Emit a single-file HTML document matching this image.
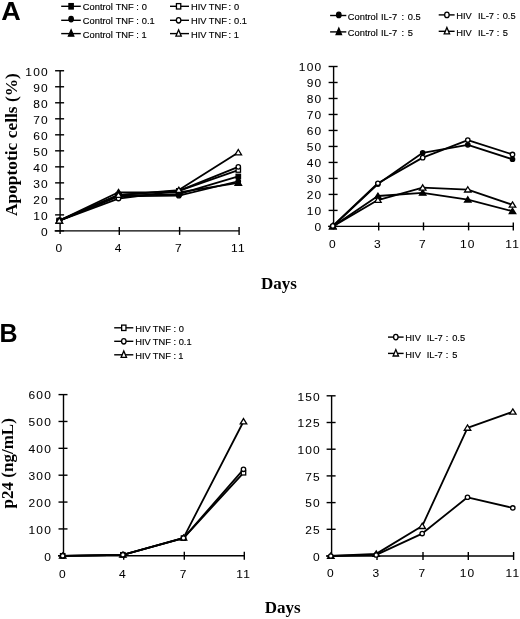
<!DOCTYPE html>
<html><head><meta charset="utf-8"><title>Figure</title>
<style>
html,body{margin:0;padding:0;background:#fff;width:520px;height:619px;overflow:hidden;}
svg{display:block;will-change:transform;}
text{fill:#000;}
</style></head>
<body>
<svg width="520" height="619" viewBox="0 0 520 619">
<rect width="520" height="619" fill="#fff"/>
<text x="1.00" y="19.60" font-family="&quot;Liberation Sans&quot;, sans-serif" font-size="25" font-weight="bold" text-anchor="start" style="letter-spacing:0px" transform="translate(0.1,0) scale(1.08,1)" >A</text>
<text x="-0.40" y="341.80" font-family="&quot;Liberation Sans&quot;, sans-serif" font-size="25" font-weight="bold" text-anchor="start" style="letter-spacing:0px" >B</text>
<line x1="61.20" y1="6.30" x2="80.80" y2="6.30" stroke="#000" stroke-width="1.4"/>
<rect x="68.95" y="3.60" width="4.30" height="5.40" fill="#000" stroke="#000" stroke-width="1.3"/>
<text x="82.83" y="10.20" font-family="&quot;Liberation Sans&quot;, sans-serif" font-size="9.3" font-weight="normal" text-anchor="start" style="letter-spacing:0px" stroke="#000" stroke-width="0.15">Control</text>
<text x="115.69" y="10.20" font-family="&quot;Liberation Sans&quot;, sans-serif" font-size="9.3" font-weight="normal" text-anchor="start" style="letter-spacing:0px" stroke="#000" stroke-width="0.15">TNF</text>
<text x="136.21" y="10.20" font-family="&quot;Liberation Sans&quot;, sans-serif" font-size="9.3" font-weight="normal" text-anchor="start" style="letter-spacing:0px" stroke="#000" stroke-width="0.15">:</text>
<text x="141.84" y="10.20" font-family="&quot;Liberation Sans&quot;, sans-serif" font-size="9.3" font-weight="normal" text-anchor="start" style="letter-spacing:0px" stroke="#000" stroke-width="0.15">0</text>
<line x1="170.00" y1="6.30" x2="189.00" y2="6.30" stroke="#000" stroke-width="1.4"/>
<rect x="176.45" y="3.60" width="4.30" height="5.40" fill="#fff" stroke="#000" stroke-width="1.3"/>
<text x="190.94" y="10.20" font-family="&quot;Liberation Sans&quot;, sans-serif" font-size="9.3" font-weight="normal" text-anchor="start" style="letter-spacing:0px" stroke="#000" stroke-width="0.15">HIV</text>
<text x="208.79" y="10.20" font-family="&quot;Liberation Sans&quot;, sans-serif" font-size="9.3" font-weight="normal" text-anchor="start" style="letter-spacing:0px" stroke="#000" stroke-width="0.15">TNF</text>
<text x="228.51" y="10.20" font-family="&quot;Liberation Sans&quot;, sans-serif" font-size="9.3" font-weight="normal" text-anchor="start" style="letter-spacing:0px" stroke="#000" stroke-width="0.15">:</text>
<text x="234.04" y="10.20" font-family="&quot;Liberation Sans&quot;, sans-serif" font-size="9.3" font-weight="normal" text-anchor="start" style="letter-spacing:0px" stroke="#000" stroke-width="0.15">0</text>
<line x1="61.20" y1="20.30" x2="80.80" y2="20.30" stroke="#000" stroke-width="1.4"/>
<ellipse cx="71.10" cy="19.10" rx="2.25" ry="2.70" fill="#000" stroke="#000" stroke-width="1.3"/>
<text x="82.83" y="24.20" font-family="&quot;Liberation Sans&quot;, sans-serif" font-size="9.3" font-weight="normal" text-anchor="start" style="letter-spacing:0px" stroke="#000" stroke-width="0.15">Control</text>
<text x="115.69" y="24.20" font-family="&quot;Liberation Sans&quot;, sans-serif" font-size="9.3" font-weight="normal" text-anchor="start" style="letter-spacing:0px" stroke="#000" stroke-width="0.15">TNF</text>
<text x="136.21" y="24.20" font-family="&quot;Liberation Sans&quot;, sans-serif" font-size="9.3" font-weight="normal" text-anchor="start" style="letter-spacing:0px" stroke="#000" stroke-width="0.15">:</text>
<text x="141.84" y="24.20" font-family="&quot;Liberation Sans&quot;, sans-serif" font-size="9.3" font-weight="normal" text-anchor="start" style="letter-spacing:0px" stroke="#000" stroke-width="0.15">0.1</text>
<line x1="170.00" y1="20.30" x2="189.00" y2="20.30" stroke="#000" stroke-width="1.4"/>
<ellipse cx="178.60" cy="20.30" rx="2.25" ry="2.70" fill="#fff" stroke="#000" stroke-width="1.3"/>
<text x="190.94" y="24.20" font-family="&quot;Liberation Sans&quot;, sans-serif" font-size="9.3" font-weight="normal" text-anchor="start" style="letter-spacing:0px" stroke="#000" stroke-width="0.15">HIV</text>
<text x="208.79" y="24.20" font-family="&quot;Liberation Sans&quot;, sans-serif" font-size="9.3" font-weight="normal" text-anchor="start" style="letter-spacing:0px" stroke="#000" stroke-width="0.15">TNF</text>
<text x="228.51" y="24.20" font-family="&quot;Liberation Sans&quot;, sans-serif" font-size="9.3" font-weight="normal" text-anchor="start" style="letter-spacing:0px" stroke="#000" stroke-width="0.15">:</text>
<text x="234.04" y="24.20" font-family="&quot;Liberation Sans&quot;, sans-serif" font-size="9.3" font-weight="normal" text-anchor="start" style="letter-spacing:0px" stroke="#000" stroke-width="0.15">0.1</text>
<line x1="61.20" y1="33.60" x2="80.80" y2="33.60" stroke="#000" stroke-width="1.4"/>
<path d="M71.10,29.80 L73.80,36.20 L68.40,36.20 Z" fill="#000" stroke="#000" stroke-width="1.3" stroke-linejoin="miter"/>
<text x="82.83" y="37.50" font-family="&quot;Liberation Sans&quot;, sans-serif" font-size="9.3" font-weight="normal" text-anchor="start" style="letter-spacing:0px" stroke="#000" stroke-width="0.15">Control</text>
<text x="115.69" y="37.50" font-family="&quot;Liberation Sans&quot;, sans-serif" font-size="9.3" font-weight="normal" text-anchor="start" style="letter-spacing:0px" stroke="#000" stroke-width="0.15">TNF</text>
<text x="136.21" y="37.50" font-family="&quot;Liberation Sans&quot;, sans-serif" font-size="9.3" font-weight="normal" text-anchor="start" style="letter-spacing:0px" stroke="#000" stroke-width="0.15">:</text>
<text x="141.49" y="37.50" font-family="&quot;Liberation Sans&quot;, sans-serif" font-size="9.3" font-weight="normal" text-anchor="start" style="letter-spacing:0px" stroke="#000" stroke-width="0.15">1</text>
<line x1="170.00" y1="33.60" x2="189.00" y2="33.60" stroke="#000" stroke-width="1.4"/>
<path d="M178.60,29.80 L181.30,36.20 L175.90,36.20 Z" fill="#fff" stroke="#000" stroke-width="1.3" stroke-linejoin="miter"/>
<text x="190.94" y="37.50" font-family="&quot;Liberation Sans&quot;, sans-serif" font-size="9.3" font-weight="normal" text-anchor="start" style="letter-spacing:0px" stroke="#000" stroke-width="0.15">HIV</text>
<text x="208.79" y="37.50" font-family="&quot;Liberation Sans&quot;, sans-serif" font-size="9.3" font-weight="normal" text-anchor="start" style="letter-spacing:0px" stroke="#000" stroke-width="0.15">TNF</text>
<text x="228.51" y="37.50" font-family="&quot;Liberation Sans&quot;, sans-serif" font-size="9.3" font-weight="normal" text-anchor="start" style="letter-spacing:0px" stroke="#000" stroke-width="0.15">:</text>
<text x="233.69" y="37.50" font-family="&quot;Liberation Sans&quot;, sans-serif" font-size="9.3" font-weight="normal" text-anchor="start" style="letter-spacing:0px" stroke="#000" stroke-width="0.15">1</text>
<line x1="330.10" y1="15.50" x2="346.30" y2="15.50" stroke="#000" stroke-width="1.4"/>
<ellipse cx="338.80" cy="14.90" rx="2.25" ry="2.70" fill="#000" stroke="#000" stroke-width="1.3"/>
<text x="347.83" y="19.70" font-family="&quot;Liberation Sans&quot;, sans-serif" font-size="9.3" font-weight="normal" text-anchor="start" style="letter-spacing:0px" stroke="#000" stroke-width="0.15">Control</text>
<text x="381.04" y="19.70" font-family="&quot;Liberation Sans&quot;, sans-serif" font-size="9.3" font-weight="normal" text-anchor="start" style="letter-spacing:0px" stroke="#000" stroke-width="0.15">IL-7</text>
<text x="401.41" y="19.70" font-family="&quot;Liberation Sans&quot;, sans-serif" font-size="9.3" font-weight="normal" text-anchor="start" style="letter-spacing:0px" stroke="#000" stroke-width="0.15">:</text>
<text x="407.74" y="19.70" font-family="&quot;Liberation Sans&quot;, sans-serif" font-size="9.3" font-weight="normal" text-anchor="start" style="letter-spacing:0px" stroke="#000" stroke-width="0.15">0.5</text>
<line x1="438.70" y1="14.90" x2="454.60" y2="14.90" stroke="#000" stroke-width="1.4"/>
<ellipse cx="446.90" cy="14.90" rx="2.25" ry="2.70" fill="#fff" stroke="#000" stroke-width="1.3"/>
<text x="456.24" y="19.20" font-family="&quot;Liberation Sans&quot;, sans-serif" font-size="9.3" font-weight="normal" text-anchor="start" style="letter-spacing:0px" stroke="#000" stroke-width="0.15">HIV</text>
<text x="477.94" y="19.20" font-family="&quot;Liberation Sans&quot;, sans-serif" font-size="9.3" font-weight="normal" text-anchor="start" style="letter-spacing:0px" stroke="#000" stroke-width="0.15">IL-7</text>
<text x="496.71" y="19.20" font-family="&quot;Liberation Sans&quot;, sans-serif" font-size="9.3" font-weight="normal" text-anchor="start" style="letter-spacing:0px" stroke="#000" stroke-width="0.15">:</text>
<text x="502.64" y="19.20" font-family="&quot;Liberation Sans&quot;, sans-serif" font-size="9.3" font-weight="normal" text-anchor="start" style="letter-spacing:0px" stroke="#000" stroke-width="0.15">0.5</text>
<line x1="330.10" y1="31.90" x2="346.30" y2="31.90" stroke="#000" stroke-width="1.4"/>
<path d="M338.80,28.10 L341.50,34.50 L336.10,34.50 Z" fill="#000" stroke="#000" stroke-width="1.3" stroke-linejoin="miter"/>
<text x="347.83" y="36.10" font-family="&quot;Liberation Sans&quot;, sans-serif" font-size="9.3" font-weight="normal" text-anchor="start" style="letter-spacing:0px" stroke="#000" stroke-width="0.15">Control</text>
<text x="381.04" y="36.10" font-family="&quot;Liberation Sans&quot;, sans-serif" font-size="9.3" font-weight="normal" text-anchor="start" style="letter-spacing:0px" stroke="#000" stroke-width="0.15">IL-7</text>
<text x="401.41" y="36.10" font-family="&quot;Liberation Sans&quot;, sans-serif" font-size="9.3" font-weight="normal" text-anchor="start" style="letter-spacing:0px" stroke="#000" stroke-width="0.15">:</text>
<text x="407.73" y="36.10" font-family="&quot;Liberation Sans&quot;, sans-serif" font-size="9.3" font-weight="normal" text-anchor="start" style="letter-spacing:0px" stroke="#000" stroke-width="0.15">5</text>
<line x1="438.70" y1="31.30" x2="454.60" y2="31.30" stroke="#000" stroke-width="1.4"/>
<path d="M446.90,27.50 L449.60,33.90 L444.20,33.90 Z" fill="#fff" stroke="#000" stroke-width="1.3" stroke-linejoin="miter"/>
<text x="456.24" y="35.60" font-family="&quot;Liberation Sans&quot;, sans-serif" font-size="9.3" font-weight="normal" text-anchor="start" style="letter-spacing:0px" stroke="#000" stroke-width="0.15">HIV</text>
<text x="477.94" y="35.60" font-family="&quot;Liberation Sans&quot;, sans-serif" font-size="9.3" font-weight="normal" text-anchor="start" style="letter-spacing:0px" stroke="#000" stroke-width="0.15">IL-7</text>
<text x="496.71" y="35.60" font-family="&quot;Liberation Sans&quot;, sans-serif" font-size="9.3" font-weight="normal" text-anchor="start" style="letter-spacing:0px" stroke="#000" stroke-width="0.15">:</text>
<text x="502.63" y="35.60" font-family="&quot;Liberation Sans&quot;, sans-serif" font-size="9.3" font-weight="normal" text-anchor="start" style="letter-spacing:0px" stroke="#000" stroke-width="0.15">5</text>
<line x1="114.20" y1="327.80" x2="133.30" y2="327.80" stroke="#000" stroke-width="1.4"/>
<rect x="121.65" y="325.10" width="4.30" height="5.40" fill="#fff" stroke="#000" stroke-width="1.3"/>
<text x="135.24" y="331.80" font-family="&quot;Liberation Sans&quot;, sans-serif" font-size="9.3" font-weight="normal" text-anchor="start" style="letter-spacing:0px" stroke="#000" stroke-width="0.15">HIV</text>
<text x="152.79" y="331.80" font-family="&quot;Liberation Sans&quot;, sans-serif" font-size="9.3" font-weight="normal" text-anchor="start" style="letter-spacing:0px" stroke="#000" stroke-width="0.15">TNF</text>
<text x="173.41" y="331.80" font-family="&quot;Liberation Sans&quot;, sans-serif" font-size="9.3" font-weight="normal" text-anchor="start" style="letter-spacing:0px" stroke="#000" stroke-width="0.15">:</text>
<text x="178.64" y="331.80" font-family="&quot;Liberation Sans&quot;, sans-serif" font-size="9.3" font-weight="normal" text-anchor="start" style="letter-spacing:0px" stroke="#000" stroke-width="0.15">0</text>
<line x1="114.20" y1="341.30" x2="133.30" y2="341.30" stroke="#000" stroke-width="1.4"/>
<ellipse cx="123.80" cy="341.30" rx="2.25" ry="2.70" fill="#fff" stroke="#000" stroke-width="1.3"/>
<text x="135.24" y="345.30" font-family="&quot;Liberation Sans&quot;, sans-serif" font-size="9.3" font-weight="normal" text-anchor="start" style="letter-spacing:0px" stroke="#000" stroke-width="0.15">HIV</text>
<text x="152.79" y="345.30" font-family="&quot;Liberation Sans&quot;, sans-serif" font-size="9.3" font-weight="normal" text-anchor="start" style="letter-spacing:0px" stroke="#000" stroke-width="0.15">TNF</text>
<text x="173.41" y="345.30" font-family="&quot;Liberation Sans&quot;, sans-serif" font-size="9.3" font-weight="normal" text-anchor="start" style="letter-spacing:0px" stroke="#000" stroke-width="0.15">:</text>
<text x="178.64" y="345.30" font-family="&quot;Liberation Sans&quot;, sans-serif" font-size="9.3" font-weight="normal" text-anchor="start" style="letter-spacing:0px" stroke="#000" stroke-width="0.15">0.1</text>
<line x1="114.20" y1="354.80" x2="133.30" y2="354.80" stroke="#000" stroke-width="1.4"/>
<path d="M123.80,351.00 L126.50,357.40 L121.10,357.40 Z" fill="#fff" stroke="#000" stroke-width="1.3" stroke-linejoin="miter"/>
<text x="135.24" y="358.80" font-family="&quot;Liberation Sans&quot;, sans-serif" font-size="9.3" font-weight="normal" text-anchor="start" style="letter-spacing:0px" stroke="#000" stroke-width="0.15">HIV</text>
<text x="152.79" y="358.80" font-family="&quot;Liberation Sans&quot;, sans-serif" font-size="9.3" font-weight="normal" text-anchor="start" style="letter-spacing:0px" stroke="#000" stroke-width="0.15">TNF</text>
<text x="173.41" y="358.80" font-family="&quot;Liberation Sans&quot;, sans-serif" font-size="9.3" font-weight="normal" text-anchor="start" style="letter-spacing:0px" stroke="#000" stroke-width="0.15">:</text>
<text x="178.29" y="358.80" font-family="&quot;Liberation Sans&quot;, sans-serif" font-size="9.3" font-weight="normal" text-anchor="start" style="letter-spacing:0px" stroke="#000" stroke-width="0.15">1</text>
<line x1="388.00" y1="337.10" x2="403.60" y2="337.10" stroke="#000" stroke-width="1.4"/>
<ellipse cx="395.80" cy="337.10" rx="2.25" ry="2.70" fill="#fff" stroke="#000" stroke-width="1.3"/>
<text x="405.34" y="341.40" font-family="&quot;Liberation Sans&quot;, sans-serif" font-size="9.3" font-weight="normal" text-anchor="start" style="letter-spacing:0px" stroke="#000" stroke-width="0.15">HIV</text>
<text x="426.74" y="341.40" font-family="&quot;Liberation Sans&quot;, sans-serif" font-size="9.3" font-weight="normal" text-anchor="start" style="letter-spacing:0px" stroke="#000" stroke-width="0.15">IL-7</text>
<text x="445.81" y="341.40" font-family="&quot;Liberation Sans&quot;, sans-serif" font-size="9.3" font-weight="normal" text-anchor="start" style="letter-spacing:0px" stroke="#000" stroke-width="0.15">:</text>
<text x="452.14" y="341.40" font-family="&quot;Liberation Sans&quot;, sans-serif" font-size="9.3" font-weight="normal" text-anchor="start" style="letter-spacing:0px" stroke="#000" stroke-width="0.15">0.5</text>
<line x1="388.00" y1="353.40" x2="403.60" y2="353.40" stroke="#000" stroke-width="1.4"/>
<path d="M395.80,349.60 L398.50,356.00 L393.10,356.00 Z" fill="#fff" stroke="#000" stroke-width="1.3" stroke-linejoin="miter"/>
<text x="405.34" y="357.70" font-family="&quot;Liberation Sans&quot;, sans-serif" font-size="9.3" font-weight="normal" text-anchor="start" style="letter-spacing:0px" stroke="#000" stroke-width="0.15">HIV</text>
<text x="426.74" y="357.70" font-family="&quot;Liberation Sans&quot;, sans-serif" font-size="9.3" font-weight="normal" text-anchor="start" style="letter-spacing:0px" stroke="#000" stroke-width="0.15">IL-7</text>
<text x="445.81" y="357.70" font-family="&quot;Liberation Sans&quot;, sans-serif" font-size="9.3" font-weight="normal" text-anchor="start" style="letter-spacing:0px" stroke="#000" stroke-width="0.15">:</text>
<text x="452.13" y="357.70" font-family="&quot;Liberation Sans&quot;, sans-serif" font-size="9.3" font-weight="normal" text-anchor="start" style="letter-spacing:0px" stroke="#000" stroke-width="0.15">5</text>
<line x1="60.10" y1="70.75" x2="60.10" y2="233.90" stroke="#000" stroke-width="1.4"/>
<line x1="54.60" y1="230.90" x2="239.10" y2="230.90" stroke="#000" stroke-width="1.4"/>
<line x1="55.10" y1="230.90" x2="64.10" y2="230.90" stroke="#000" stroke-width="1.4"/>
<text transform="translate(48.74,235.70) scale(1.04,1)" font-family="&quot;Liberation Sans&quot;, sans-serif" font-size="11.5" text-anchor="end" stroke="#000" stroke-width="0.05" style="letter-spacing:1.1px">0</text>
<line x1="55.10" y1="214.88" x2="64.10" y2="214.88" stroke="#000" stroke-width="1.4"/>
<text transform="translate(48.74,219.69) scale(1.04,1)" font-family="&quot;Liberation Sans&quot;, sans-serif" font-size="11.5" text-anchor="end" stroke="#000" stroke-width="0.05" style="letter-spacing:1.1px">10</text>
<line x1="55.10" y1="198.87" x2="64.10" y2="198.87" stroke="#000" stroke-width="1.4"/>
<text transform="translate(48.74,203.67) scale(1.04,1)" font-family="&quot;Liberation Sans&quot;, sans-serif" font-size="11.5" text-anchor="end" stroke="#000" stroke-width="0.05" style="letter-spacing:1.1px">20</text>
<line x1="55.10" y1="182.86" x2="64.10" y2="182.86" stroke="#000" stroke-width="1.4"/>
<text transform="translate(48.74,187.66) scale(1.04,1)" font-family="&quot;Liberation Sans&quot;, sans-serif" font-size="11.5" text-anchor="end" stroke="#000" stroke-width="0.05" style="letter-spacing:1.1px">30</text>
<line x1="55.10" y1="166.84" x2="64.10" y2="166.84" stroke="#000" stroke-width="1.4"/>
<text transform="translate(48.74,171.64) scale(1.04,1)" font-family="&quot;Liberation Sans&quot;, sans-serif" font-size="11.5" text-anchor="end" stroke="#000" stroke-width="0.05" style="letter-spacing:1.1px">40</text>
<line x1="55.10" y1="150.82" x2="64.10" y2="150.82" stroke="#000" stroke-width="1.4"/>
<text transform="translate(48.74,155.62) scale(1.04,1)" font-family="&quot;Liberation Sans&quot;, sans-serif" font-size="11.5" text-anchor="end" stroke="#000" stroke-width="0.05" style="letter-spacing:1.1px">50</text>
<line x1="55.10" y1="134.81" x2="64.10" y2="134.81" stroke="#000" stroke-width="1.4"/>
<text transform="translate(48.74,139.61) scale(1.04,1)" font-family="&quot;Liberation Sans&quot;, sans-serif" font-size="11.5" text-anchor="end" stroke="#000" stroke-width="0.05" style="letter-spacing:1.1px">60</text>
<line x1="55.10" y1="118.80" x2="64.10" y2="118.80" stroke="#000" stroke-width="1.4"/>
<text transform="translate(48.74,123.59) scale(1.04,1)" font-family="&quot;Liberation Sans&quot;, sans-serif" font-size="11.5" text-anchor="end" stroke="#000" stroke-width="0.05" style="letter-spacing:1.1px">70</text>
<line x1="55.10" y1="102.78" x2="64.10" y2="102.78" stroke="#000" stroke-width="1.4"/>
<text transform="translate(48.74,107.58) scale(1.04,1)" font-family="&quot;Liberation Sans&quot;, sans-serif" font-size="11.5" text-anchor="end" stroke="#000" stroke-width="0.05" style="letter-spacing:1.1px">80</text>
<line x1="55.10" y1="86.76" x2="64.10" y2="86.76" stroke="#000" stroke-width="1.4"/>
<text transform="translate(48.74,91.56) scale(1.04,1)" font-family="&quot;Liberation Sans&quot;, sans-serif" font-size="11.5" text-anchor="end" stroke="#000" stroke-width="0.05" style="letter-spacing:1.1px">90</text>
<line x1="55.10" y1="70.75" x2="64.10" y2="70.75" stroke="#000" stroke-width="1.4"/>
<text transform="translate(48.74,75.55) scale(1.04,1)" font-family="&quot;Liberation Sans&quot;, sans-serif" font-size="11.5" text-anchor="end" stroke="#000" stroke-width="0.05" style="letter-spacing:1.1px">100</text>
<line x1="119.30" y1="226.90" x2="119.30" y2="234.90" stroke="#000" stroke-width="1.4"/>
<line x1="179.60" y1="226.90" x2="179.60" y2="234.90" stroke="#000" stroke-width="1.4"/>
<line x1="239.10" y1="226.90" x2="239.10" y2="234.90" stroke="#000" stroke-width="1.4"/>
<text transform="translate(59.37,252.40) scale(1.04,1)" font-family="&quot;Liberation Sans&quot;, sans-serif" font-size="11.5" text-anchor="middle" stroke="#000" stroke-width="0.05" style="letter-spacing:1.1px">0</text>
<text transform="translate(118.57,252.40) scale(1.04,1)" font-family="&quot;Liberation Sans&quot;, sans-serif" font-size="11.5" text-anchor="middle" stroke="#000" stroke-width="0.05" style="letter-spacing:1.1px">4</text>
<text transform="translate(178.87,252.40) scale(1.04,1)" font-family="&quot;Liberation Sans&quot;, sans-serif" font-size="11.5" text-anchor="middle" stroke="#000" stroke-width="0.05" style="letter-spacing:1.1px">7</text>
<text transform="translate(238.37,252.40) scale(1.04,1)" font-family="&quot;Liberation Sans&quot;, sans-serif" font-size="11.5" text-anchor="middle" stroke="#000" stroke-width="0.05" style="letter-spacing:1.1px">11</text>
<path d="M59.30,220.65 L118.50,195.67 L178.80,194.07 L238.30,176.45" fill="none" stroke="#000" stroke-width="1.8" stroke-linejoin="round"/>
<path d="M59.30,220.65 L118.50,196.47 L178.80,195.67 L238.30,181.25" fill="none" stroke="#000" stroke-width="1.8" stroke-linejoin="round"/>
<path d="M59.30,220.65 L118.50,192.30 L178.80,192.46 L238.30,182.86" fill="none" stroke="#000" stroke-width="1.8" stroke-linejoin="round"/>
<path d="M59.30,220.65 L118.50,194.87 L178.80,190.86 L238.30,170.04" fill="none" stroke="#000" stroke-width="1.8" stroke-linejoin="round"/>
<path d="M59.30,220.65 L118.50,198.55 L178.80,190.86 L238.30,166.84" fill="none" stroke="#000" stroke-width="1.8" stroke-linejoin="round"/>
<path d="M59.30,220.65 L118.50,195.03 L178.80,190.06 L238.30,152.43" fill="none" stroke="#000" stroke-width="1.8" stroke-linejoin="round"/>
<rect x="57.10" y="218.45" width="4.40" height="4.40" fill="#000" stroke="#000" stroke-width="1.3"/>
<rect x="116.30" y="193.47" width="4.40" height="4.40" fill="#000" stroke="#000" stroke-width="1.3"/>
<rect x="176.60" y="191.87" width="4.40" height="4.40" fill="#000" stroke="#000" stroke-width="1.3"/>
<rect x="236.10" y="174.25" width="4.40" height="4.40" fill="#000" stroke="#000" stroke-width="1.3"/>
<ellipse cx="59.30" cy="220.65" rx="2.20" ry="2.20" fill="#000" stroke="#000" stroke-width="1.3"/>
<ellipse cx="118.50" cy="196.47" rx="2.20" ry="2.20" fill="#000" stroke="#000" stroke-width="1.3"/>
<ellipse cx="178.80" cy="195.67" rx="2.20" ry="2.20" fill="#000" stroke="#000" stroke-width="1.3"/>
<ellipse cx="238.30" cy="181.25" rx="2.20" ry="2.20" fill="#000" stroke="#000" stroke-width="1.3"/>
<path d="M59.30,217.75 L62.55,223.05 L56.05,223.05 Z" fill="#000" stroke="#000" stroke-width="1.3" stroke-linejoin="miter"/>
<path d="M118.50,189.40 L121.75,194.70 L115.25,194.70 Z" fill="#000" stroke="#000" stroke-width="1.3" stroke-linejoin="miter"/>
<path d="M178.80,189.56 L182.05,194.86 L175.55,194.86 Z" fill="#000" stroke="#000" stroke-width="1.3" stroke-linejoin="miter"/>
<path d="M238.30,179.96 L241.55,185.26 L235.05,185.26 Z" fill="#000" stroke="#000" stroke-width="1.3" stroke-linejoin="miter"/>
<rect x="57.10" y="218.45" width="4.40" height="4.40" fill="#fff" stroke="#000" stroke-width="1.3"/>
<rect x="116.30" y="192.67" width="4.40" height="4.40" fill="#fff" stroke="#000" stroke-width="1.3"/>
<rect x="176.60" y="188.66" width="4.40" height="4.40" fill="#fff" stroke="#000" stroke-width="1.3"/>
<rect x="236.10" y="167.84" width="4.40" height="4.40" fill="#fff" stroke="#000" stroke-width="1.3"/>
<ellipse cx="59.30" cy="220.65" rx="2.20" ry="2.20" fill="#fff" stroke="#000" stroke-width="1.3"/>
<ellipse cx="118.50" cy="198.55" rx="2.20" ry="2.20" fill="#fff" stroke="#000" stroke-width="1.3"/>
<ellipse cx="178.80" cy="190.86" rx="2.20" ry="2.20" fill="#fff" stroke="#000" stroke-width="1.3"/>
<ellipse cx="238.30" cy="166.84" rx="2.20" ry="2.20" fill="#fff" stroke="#000" stroke-width="1.3"/>
<path d="M59.30,217.75 L62.55,223.05 L56.05,223.05 Z" fill="#fff" stroke="#000" stroke-width="1.3" stroke-linejoin="miter"/>
<path d="M118.50,192.13 L121.75,197.43 L115.25,197.43 Z" fill="#fff" stroke="#000" stroke-width="1.3" stroke-linejoin="miter"/>
<path d="M178.80,187.16 L182.05,192.46 L175.55,192.46 Z" fill="#fff" stroke="#000" stroke-width="1.3" stroke-linejoin="miter"/>
<path d="M238.30,149.53 L241.55,154.83 L235.05,154.83 Z" fill="#fff" stroke="#000" stroke-width="1.3" stroke-linejoin="miter"/>
<line x1="333.60" y1="66.50" x2="333.60" y2="229.40" stroke="#000" stroke-width="1.4"/>
<line x1="328.10" y1="226.40" x2="513.30" y2="226.40" stroke="#000" stroke-width="1.4"/>
<line x1="328.60" y1="226.40" x2="337.60" y2="226.40" stroke="#000" stroke-width="1.4"/>
<text transform="translate(322.24,231.20) scale(1.04,1)" font-family="&quot;Liberation Sans&quot;, sans-serif" font-size="11.5" text-anchor="end" stroke="#000" stroke-width="0.05" style="letter-spacing:1.1px">0</text>
<line x1="328.60" y1="210.41" x2="337.60" y2="210.41" stroke="#000" stroke-width="1.4"/>
<text transform="translate(322.24,215.21) scale(1.04,1)" font-family="&quot;Liberation Sans&quot;, sans-serif" font-size="11.5" text-anchor="end" stroke="#000" stroke-width="0.05" style="letter-spacing:1.1px">10</text>
<line x1="328.60" y1="194.42" x2="337.60" y2="194.42" stroke="#000" stroke-width="1.4"/>
<text transform="translate(322.24,199.22) scale(1.04,1)" font-family="&quot;Liberation Sans&quot;, sans-serif" font-size="11.5" text-anchor="end" stroke="#000" stroke-width="0.05" style="letter-spacing:1.1px">20</text>
<line x1="328.60" y1="178.43" x2="337.60" y2="178.43" stroke="#000" stroke-width="1.4"/>
<text transform="translate(322.24,183.23) scale(1.04,1)" font-family="&quot;Liberation Sans&quot;, sans-serif" font-size="11.5" text-anchor="end" stroke="#000" stroke-width="0.05" style="letter-spacing:1.1px">30</text>
<line x1="328.60" y1="162.44" x2="337.60" y2="162.44" stroke="#000" stroke-width="1.4"/>
<text transform="translate(322.24,167.24) scale(1.04,1)" font-family="&quot;Liberation Sans&quot;, sans-serif" font-size="11.5" text-anchor="end" stroke="#000" stroke-width="0.05" style="letter-spacing:1.1px">40</text>
<line x1="328.60" y1="146.45" x2="337.60" y2="146.45" stroke="#000" stroke-width="1.4"/>
<text transform="translate(322.24,151.25) scale(1.04,1)" font-family="&quot;Liberation Sans&quot;, sans-serif" font-size="11.5" text-anchor="end" stroke="#000" stroke-width="0.05" style="letter-spacing:1.1px">50</text>
<line x1="328.60" y1="130.46" x2="337.60" y2="130.46" stroke="#000" stroke-width="1.4"/>
<text transform="translate(322.24,135.26) scale(1.04,1)" font-family="&quot;Liberation Sans&quot;, sans-serif" font-size="11.5" text-anchor="end" stroke="#000" stroke-width="0.05" style="letter-spacing:1.1px">60</text>
<line x1="328.60" y1="114.47" x2="337.60" y2="114.47" stroke="#000" stroke-width="1.4"/>
<text transform="translate(322.24,119.27) scale(1.04,1)" font-family="&quot;Liberation Sans&quot;, sans-serif" font-size="11.5" text-anchor="end" stroke="#000" stroke-width="0.05" style="letter-spacing:1.1px">70</text>
<line x1="328.60" y1="98.48" x2="337.60" y2="98.48" stroke="#000" stroke-width="1.4"/>
<text transform="translate(322.24,103.28) scale(1.04,1)" font-family="&quot;Liberation Sans&quot;, sans-serif" font-size="11.5" text-anchor="end" stroke="#000" stroke-width="0.05" style="letter-spacing:1.1px">80</text>
<line x1="328.60" y1="82.49" x2="337.60" y2="82.49" stroke="#000" stroke-width="1.4"/>
<text transform="translate(322.24,87.29) scale(1.04,1)" font-family="&quot;Liberation Sans&quot;, sans-serif" font-size="11.5" text-anchor="end" stroke="#000" stroke-width="0.05" style="letter-spacing:1.1px">90</text>
<line x1="328.60" y1="66.50" x2="337.60" y2="66.50" stroke="#000" stroke-width="1.4"/>
<text transform="translate(322.24,71.30) scale(1.04,1)" font-family="&quot;Liberation Sans&quot;, sans-serif" font-size="11.5" text-anchor="end" stroke="#000" stroke-width="0.05" style="letter-spacing:1.1px">100</text>
<line x1="378.70" y1="222.40" x2="378.70" y2="230.40" stroke="#000" stroke-width="1.4"/>
<line x1="423.50" y1="222.40" x2="423.50" y2="230.40" stroke="#000" stroke-width="1.4"/>
<line x1="468.60" y1="222.40" x2="468.60" y2="230.40" stroke="#000" stroke-width="1.4"/>
<line x1="513.30" y1="222.40" x2="513.30" y2="230.40" stroke="#000" stroke-width="1.4"/>
<text transform="translate(332.87,248.40) scale(1.04,1)" font-family="&quot;Liberation Sans&quot;, sans-serif" font-size="11.5" text-anchor="middle" stroke="#000" stroke-width="0.05" style="letter-spacing:1.1px">0</text>
<text transform="translate(377.97,248.40) scale(1.04,1)" font-family="&quot;Liberation Sans&quot;, sans-serif" font-size="11.5" text-anchor="middle" stroke="#000" stroke-width="0.05" style="letter-spacing:1.1px">3</text>
<text transform="translate(422.77,248.40) scale(1.04,1)" font-family="&quot;Liberation Sans&quot;, sans-serif" font-size="11.5" text-anchor="middle" stroke="#000" stroke-width="0.05" style="letter-spacing:1.1px">7</text>
<text transform="translate(467.87,248.40) scale(1.04,1)" font-family="&quot;Liberation Sans&quot;, sans-serif" font-size="11.5" text-anchor="middle" stroke="#000" stroke-width="0.05" style="letter-spacing:1.1px">10</text>
<text transform="translate(512.57,248.40) scale(1.04,1)" font-family="&quot;Liberation Sans&quot;, sans-serif" font-size="11.5" text-anchor="middle" stroke="#000" stroke-width="0.05" style="letter-spacing:1.1px">11</text>
<path d="M332.80,226.40 L377.90,196.02 L422.70,192.82 L467.80,199.70 L512.50,211.21" fill="none" stroke="#000" stroke-width="1.8" stroke-linejoin="round"/>
<path d="M332.80,226.40 L377.90,200.02 L422.70,187.70 L467.80,189.62 L512.50,204.81" fill="none" stroke="#000" stroke-width="1.8" stroke-linejoin="round"/>
<path d="M332.80,226.40 L377.90,184.03 L422.70,152.85 L467.80,144.85 L512.50,159.24" fill="none" stroke="#000" stroke-width="1.8" stroke-linejoin="round"/>
<path d="M332.80,225.92 L377.90,183.23 L422.70,157.64 L467.80,140.05 L512.50,154.44" fill="none" stroke="#000" stroke-width="1.8" stroke-linejoin="round"/>
<path d="M332.80,223.50 L336.05,228.80 L329.55,228.80 Z" fill="#000" stroke="#000" stroke-width="1.3" stroke-linejoin="miter"/>
<path d="M377.90,193.12 L381.15,198.42 L374.65,198.42 Z" fill="#000" stroke="#000" stroke-width="1.3" stroke-linejoin="miter"/>
<path d="M422.70,189.92 L425.95,195.22 L419.45,195.22 Z" fill="#000" stroke="#000" stroke-width="1.3" stroke-linejoin="miter"/>
<path d="M467.80,196.80 L471.05,202.10 L464.55,202.10 Z" fill="#000" stroke="#000" stroke-width="1.3" stroke-linejoin="miter"/>
<path d="M512.50,208.31 L515.75,213.61 L509.25,213.61 Z" fill="#000" stroke="#000" stroke-width="1.3" stroke-linejoin="miter"/>
<path d="M332.80,223.50 L336.05,228.80 L329.55,228.80 Z" fill="#fff" stroke="#000" stroke-width="1.3" stroke-linejoin="miter"/>
<path d="M377.90,197.12 L381.15,202.42 L374.65,202.42 Z" fill="#fff" stroke="#000" stroke-width="1.3" stroke-linejoin="miter"/>
<path d="M422.70,184.80 L425.95,190.10 L419.45,190.10 Z" fill="#fff" stroke="#000" stroke-width="1.3" stroke-linejoin="miter"/>
<path d="M467.80,186.72 L471.05,192.02 L464.55,192.02 Z" fill="#fff" stroke="#000" stroke-width="1.3" stroke-linejoin="miter"/>
<path d="M512.50,201.91 L515.75,207.21 L509.25,207.21 Z" fill="#fff" stroke="#000" stroke-width="1.3" stroke-linejoin="miter"/>
<ellipse cx="332.80" cy="226.40" rx="2.20" ry="2.20" fill="#000" stroke="#000" stroke-width="1.3"/>
<ellipse cx="377.90" cy="184.03" rx="2.20" ry="2.20" fill="#000" stroke="#000" stroke-width="1.3"/>
<ellipse cx="422.70" cy="152.85" rx="2.20" ry="2.20" fill="#000" stroke="#000" stroke-width="1.3"/>
<ellipse cx="467.80" cy="144.85" rx="2.20" ry="2.20" fill="#000" stroke="#000" stroke-width="1.3"/>
<ellipse cx="512.50" cy="159.24" rx="2.20" ry="2.20" fill="#000" stroke="#000" stroke-width="1.3"/>
<ellipse cx="332.80" cy="225.92" rx="2.20" ry="2.20" fill="#fff" stroke="#000" stroke-width="1.3"/>
<ellipse cx="377.90" cy="183.23" rx="2.20" ry="2.20" fill="#fff" stroke="#000" stroke-width="1.3"/>
<ellipse cx="422.70" cy="157.64" rx="2.20" ry="2.20" fill="#fff" stroke="#000" stroke-width="1.3"/>
<ellipse cx="467.80" cy="140.05" rx="2.20" ry="2.20" fill="#fff" stroke="#000" stroke-width="1.3"/>
<ellipse cx="512.50" cy="154.44" rx="2.20" ry="2.20" fill="#fff" stroke="#000" stroke-width="1.3"/>
<line x1="63.50" y1="394.60" x2="63.50" y2="558.80" stroke="#000" stroke-width="1.4"/>
<line x1="58.00" y1="555.80" x2="244.30" y2="555.80" stroke="#000" stroke-width="1.4"/>
<line x1="58.50" y1="555.80" x2="67.50" y2="555.80" stroke="#000" stroke-width="1.4"/>
<text transform="translate(51.94,560.60) scale(1.04,1)" font-family="&quot;Liberation Sans&quot;, sans-serif" font-size="11.5" text-anchor="end" stroke="#000" stroke-width="0.05" style="letter-spacing:1.1px">0</text>
<line x1="58.50" y1="528.93" x2="67.50" y2="528.93" stroke="#000" stroke-width="1.4"/>
<text transform="translate(51.94,533.73) scale(1.04,1)" font-family="&quot;Liberation Sans&quot;, sans-serif" font-size="11.5" text-anchor="end" stroke="#000" stroke-width="0.05" style="letter-spacing:1.1px">100</text>
<line x1="58.50" y1="502.07" x2="67.50" y2="502.07" stroke="#000" stroke-width="1.4"/>
<text transform="translate(51.94,506.87) scale(1.04,1)" font-family="&quot;Liberation Sans&quot;, sans-serif" font-size="11.5" text-anchor="end" stroke="#000" stroke-width="0.05" style="letter-spacing:1.1px">200</text>
<line x1="58.50" y1="475.20" x2="67.50" y2="475.20" stroke="#000" stroke-width="1.4"/>
<text transform="translate(51.94,480.00) scale(1.04,1)" font-family="&quot;Liberation Sans&quot;, sans-serif" font-size="11.5" text-anchor="end" stroke="#000" stroke-width="0.05" style="letter-spacing:1.1px">300</text>
<line x1="58.50" y1="448.33" x2="67.50" y2="448.33" stroke="#000" stroke-width="1.4"/>
<text transform="translate(51.94,453.13) scale(1.04,1)" font-family="&quot;Liberation Sans&quot;, sans-serif" font-size="11.5" text-anchor="end" stroke="#000" stroke-width="0.05" style="letter-spacing:1.1px">400</text>
<line x1="58.50" y1="421.47" x2="67.50" y2="421.47" stroke="#000" stroke-width="1.4"/>
<text transform="translate(51.94,426.27) scale(1.04,1)" font-family="&quot;Liberation Sans&quot;, sans-serif" font-size="11.5" text-anchor="end" stroke="#000" stroke-width="0.05" style="letter-spacing:1.1px">500</text>
<line x1="58.50" y1="394.60" x2="67.50" y2="394.60" stroke="#000" stroke-width="1.4"/>
<text transform="translate(51.94,399.40) scale(1.04,1)" font-family="&quot;Liberation Sans&quot;, sans-serif" font-size="11.5" text-anchor="end" stroke="#000" stroke-width="0.05" style="letter-spacing:1.1px">600</text>
<line x1="123.70" y1="551.80" x2="123.70" y2="559.80" stroke="#000" stroke-width="1.4"/>
<line x1="184.30" y1="551.80" x2="184.30" y2="559.80" stroke="#000" stroke-width="1.4"/>
<line x1="244.30" y1="551.80" x2="244.30" y2="559.80" stroke="#000" stroke-width="1.4"/>
<text transform="translate(62.77,578.20) scale(1.04,1)" font-family="&quot;Liberation Sans&quot;, sans-serif" font-size="11.5" text-anchor="middle" stroke="#000" stroke-width="0.05" style="letter-spacing:1.1px">0</text>
<text transform="translate(122.97,578.20) scale(1.04,1)" font-family="&quot;Liberation Sans&quot;, sans-serif" font-size="11.5" text-anchor="middle" stroke="#000" stroke-width="0.05" style="letter-spacing:1.1px">4</text>
<text transform="translate(183.57,578.20) scale(1.04,1)" font-family="&quot;Liberation Sans&quot;, sans-serif" font-size="11.5" text-anchor="middle" stroke="#000" stroke-width="0.05" style="letter-spacing:1.1px">7</text>
<text transform="translate(243.57,578.20) scale(1.04,1)" font-family="&quot;Liberation Sans&quot;, sans-serif" font-size="11.5" text-anchor="middle" stroke="#000" stroke-width="0.05" style="letter-spacing:1.1px">11</text>
<path d="M62.70,555.80 L122.90,554.81 L183.50,537.80 L243.50,421.47" fill="none" stroke="#000" stroke-width="1.8" stroke-linejoin="round"/>
<path d="M62.70,555.80 L122.90,554.81 L183.50,538.07 L243.50,472.78" fill="none" stroke="#000" stroke-width="1.8" stroke-linejoin="round"/>
<path d="M62.70,555.80 L122.90,554.81 L183.50,538.07 L243.50,469.29" fill="none" stroke="#000" stroke-width="1.8" stroke-linejoin="round"/>
<path d="M62.70,552.90 L65.95,558.20 L59.45,558.20 Z" fill="#fff" stroke="#000" stroke-width="1.3" stroke-linejoin="miter"/>
<path d="M122.90,551.91 L126.15,557.21 L119.65,557.21 Z" fill="#fff" stroke="#000" stroke-width="1.3" stroke-linejoin="miter"/>
<path d="M183.50,534.90 L186.75,540.20 L180.25,540.20 Z" fill="#fff" stroke="#000" stroke-width="1.3" stroke-linejoin="miter"/>
<path d="M243.50,418.57 L246.75,423.87 L240.25,423.87 Z" fill="#fff" stroke="#000" stroke-width="1.3" stroke-linejoin="miter"/>
<rect x="60.50" y="553.60" width="4.40" height="4.40" fill="#fff" stroke="#000" stroke-width="1.3"/>
<rect x="120.70" y="552.61" width="4.40" height="4.40" fill="#fff" stroke="#000" stroke-width="1.3"/>
<rect x="181.30" y="535.87" width="4.40" height="4.40" fill="#fff" stroke="#000" stroke-width="1.3"/>
<rect x="241.30" y="470.58" width="4.40" height="4.40" fill="#fff" stroke="#000" stroke-width="1.3"/>
<ellipse cx="62.70" cy="555.80" rx="2.20" ry="2.20" fill="#fff" stroke="#000" stroke-width="1.3"/>
<ellipse cx="122.90" cy="554.81" rx="2.20" ry="2.20" fill="#fff" stroke="#000" stroke-width="1.3"/>
<ellipse cx="183.50" cy="538.07" rx="2.20" ry="2.20" fill="#fff" stroke="#000" stroke-width="1.3"/>
<ellipse cx="243.50" cy="469.29" rx="2.20" ry="2.20" fill="#fff" stroke="#000" stroke-width="1.3"/>
<line x1="331.60" y1="395.80" x2="331.60" y2="559.00" stroke="#000" stroke-width="1.4"/>
<line x1="326.10" y1="556.00" x2="513.60" y2="556.00" stroke="#000" stroke-width="1.4"/>
<line x1="326.60" y1="556.00" x2="335.60" y2="556.00" stroke="#000" stroke-width="1.4"/>
<text transform="translate(320.84,560.80) scale(1.04,1)" font-family="&quot;Liberation Sans&quot;, sans-serif" font-size="11.5" text-anchor="end" stroke="#000" stroke-width="0.05" style="letter-spacing:1.1px">0</text>
<line x1="326.60" y1="529.30" x2="335.60" y2="529.30" stroke="#000" stroke-width="1.4"/>
<text transform="translate(320.84,534.10) scale(1.04,1)" font-family="&quot;Liberation Sans&quot;, sans-serif" font-size="11.5" text-anchor="end" stroke="#000" stroke-width="0.05" style="letter-spacing:1.1px">25</text>
<line x1="326.60" y1="502.60" x2="335.60" y2="502.60" stroke="#000" stroke-width="1.4"/>
<text transform="translate(320.84,507.40) scale(1.04,1)" font-family="&quot;Liberation Sans&quot;, sans-serif" font-size="11.5" text-anchor="end" stroke="#000" stroke-width="0.05" style="letter-spacing:1.1px">50</text>
<line x1="326.60" y1="475.90" x2="335.60" y2="475.90" stroke="#000" stroke-width="1.4"/>
<text transform="translate(320.84,480.70) scale(1.04,1)" font-family="&quot;Liberation Sans&quot;, sans-serif" font-size="11.5" text-anchor="end" stroke="#000" stroke-width="0.05" style="letter-spacing:1.1px">75</text>
<line x1="326.60" y1="449.20" x2="335.60" y2="449.20" stroke="#000" stroke-width="1.4"/>
<text transform="translate(320.84,454.00) scale(1.04,1)" font-family="&quot;Liberation Sans&quot;, sans-serif" font-size="11.5" text-anchor="end" stroke="#000" stroke-width="0.05" style="letter-spacing:1.1px">100</text>
<line x1="326.60" y1="422.50" x2="335.60" y2="422.50" stroke="#000" stroke-width="1.4"/>
<text transform="translate(320.84,427.30) scale(1.04,1)" font-family="&quot;Liberation Sans&quot;, sans-serif" font-size="11.5" text-anchor="end" stroke="#000" stroke-width="0.05" style="letter-spacing:1.1px">125</text>
<line x1="326.60" y1="395.80" x2="335.60" y2="395.80" stroke="#000" stroke-width="1.4"/>
<text transform="translate(320.84,400.60) scale(1.04,1)" font-family="&quot;Liberation Sans&quot;, sans-serif" font-size="11.5" text-anchor="end" stroke="#000" stroke-width="0.05" style="letter-spacing:1.1px">150</text>
<line x1="377.00" y1="552.00" x2="377.00" y2="560.00" stroke="#000" stroke-width="1.4"/>
<line x1="423.00" y1="552.00" x2="423.00" y2="560.00" stroke="#000" stroke-width="1.4"/>
<line x1="468.30" y1="552.00" x2="468.30" y2="560.00" stroke="#000" stroke-width="1.4"/>
<line x1="513.60" y1="552.00" x2="513.60" y2="560.00" stroke="#000" stroke-width="1.4"/>
<text transform="translate(330.87,577.10) scale(1.04,1)" font-family="&quot;Liberation Sans&quot;, sans-serif" font-size="11.5" text-anchor="middle" stroke="#000" stroke-width="0.05" style="letter-spacing:1.1px">0</text>
<text transform="translate(376.27,577.10) scale(1.04,1)" font-family="&quot;Liberation Sans&quot;, sans-serif" font-size="11.5" text-anchor="middle" stroke="#000" stroke-width="0.05" style="letter-spacing:1.1px">3</text>
<text transform="translate(422.27,577.10) scale(1.04,1)" font-family="&quot;Liberation Sans&quot;, sans-serif" font-size="11.5" text-anchor="middle" stroke="#000" stroke-width="0.05" style="letter-spacing:1.1px">7</text>
<text transform="translate(467.57,577.10) scale(1.04,1)" font-family="&quot;Liberation Sans&quot;, sans-serif" font-size="11.5" text-anchor="middle" stroke="#000" stroke-width="0.05" style="letter-spacing:1.1px">10</text>
<text transform="translate(512.87,577.10) scale(1.04,1)" font-family="&quot;Liberation Sans&quot;, sans-serif" font-size="11.5" text-anchor="middle" stroke="#000" stroke-width="0.05" style="letter-spacing:1.1px">11</text>
<path d="M330.80,556.00 L376.20,553.86 L422.20,526.10 L467.50,427.84 L512.80,411.82" fill="none" stroke="#000" stroke-width="1.8" stroke-linejoin="round"/>
<path d="M330.80,556.00 L376.20,554.93 L422.20,533.57 L467.50,497.26 L512.80,507.94" fill="none" stroke="#000" stroke-width="1.8" stroke-linejoin="round"/>
<path d="M330.80,553.10 L334.05,558.40 L327.55,558.40 Z" fill="#fff" stroke="#000" stroke-width="1.3" stroke-linejoin="miter"/>
<path d="M376.20,550.96 L379.45,556.26 L372.95,556.26 Z" fill="#fff" stroke="#000" stroke-width="1.3" stroke-linejoin="miter"/>
<path d="M422.20,523.20 L425.45,528.50 L418.95,528.50 Z" fill="#fff" stroke="#000" stroke-width="1.3" stroke-linejoin="miter"/>
<path d="M467.50,424.94 L470.75,430.24 L464.25,430.24 Z" fill="#fff" stroke="#000" stroke-width="1.3" stroke-linejoin="miter"/>
<path d="M512.80,408.92 L516.05,414.22 L509.55,414.22 Z" fill="#fff" stroke="#000" stroke-width="1.3" stroke-linejoin="miter"/>
<ellipse cx="330.80" cy="556.00" rx="2.20" ry="2.20" fill="#fff" stroke="#000" stroke-width="1.3"/>
<ellipse cx="376.20" cy="554.93" rx="2.20" ry="2.20" fill="#fff" stroke="#000" stroke-width="1.3"/>
<ellipse cx="422.20" cy="533.57" rx="2.20" ry="2.20" fill="#fff" stroke="#000" stroke-width="1.3"/>
<ellipse cx="467.50" cy="497.26" rx="2.20" ry="2.20" fill="#fff" stroke="#000" stroke-width="1.3"/>
<ellipse cx="512.80" cy="507.94" rx="2.20" ry="2.20" fill="#fff" stroke="#000" stroke-width="1.3"/>
<text x="261.00" y="288.60" font-family="&quot;Liberation Serif&quot;, serif" font-size="17" font-weight="bold" text-anchor="start" style="letter-spacing:0px" >Days</text>
<text x="264.70" y="613.10" font-family="&quot;Liberation Serif&quot;, serif" font-size="17" font-weight="bold" text-anchor="start" style="letter-spacing:0px" >Days</text>
<text x="0.00" y="0.00" font-family="&quot;Liberation Serif&quot;, serif" font-size="17.4" font-weight="bold" text-anchor="middle" style="letter-spacing:0px" transform="translate(17,144.6) rotate(-90)">Apoptotic cells (%)</text>
<text x="0.00" y="0.00" font-family="&quot;Liberation Serif&quot;, serif" font-size="17" font-weight="bold" text-anchor="middle" style="letter-spacing:0px" transform="translate(13,463.3) rotate(-90)">p24 (ng/mL)</text>
</svg>
</body></html>
